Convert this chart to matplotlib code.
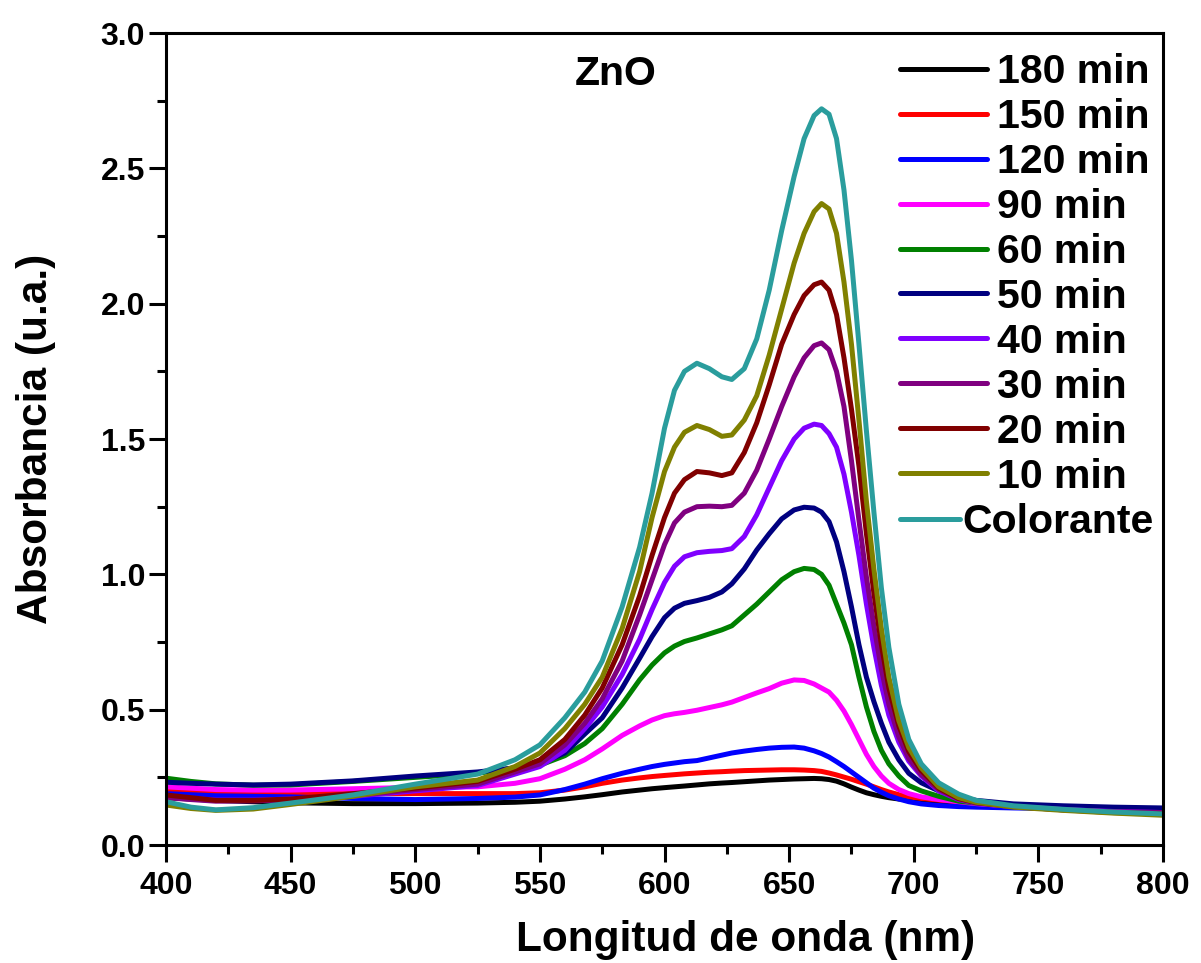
import numpy as np
import matplotlib
matplotlib.use("Agg")
import matplotlib.pyplot as plt
from matplotlib.ticker import FormatStrFormatter

# ============================================================
# DATA
# ============================================================

wavelength = [400, 410, 420, 435, 450, 475, 500, 525, 540, 550,
              560, 568, 575, 583, 590, 595, 600, 604, 608, 613,
              618, 623, 627, 632, 637, 642, 647, 652, 656, 660,
              663, 666, 669, 672, 675, 678, 681, 684, 687, 690,
              694, 698, 703, 710, 718, 725, 740, 760, 780, 800]

abs_180 = [0.175, 0.170, 0.165, 0.160, 0.156, 0.153, 0.153, 0.155, 0.158, 0.162,
           0.170, 0.178, 0.186, 0.196, 0.203, 0.208, 0.212, 0.215, 0.218, 0.222,
           0.226, 0.229, 0.231, 0.234, 0.237, 0.240, 0.242, 0.244, 0.245, 0.246,
           0.245, 0.242, 0.236, 0.226, 0.214, 0.203, 0.193, 0.186, 0.180, 0.175,
           0.170, 0.166, 0.162, 0.157, 0.152, 0.149, 0.144, 0.138, 0.133, 0.128]

abs_150 = [0.203, 0.199, 0.196, 0.193, 0.191, 0.190, 0.190, 0.190, 0.190, 0.193,
           0.203, 0.215, 0.228, 0.240, 0.248, 0.253, 0.257, 0.260, 0.263, 0.266,
           0.269, 0.271, 0.273, 0.275, 0.276, 0.277, 0.278, 0.278, 0.277, 0.275,
           0.272, 0.266, 0.259, 0.251, 0.243, 0.234, 0.225, 0.215, 0.205, 0.196,
           0.186, 0.178, 0.172, 0.166, 0.160, 0.155, 0.146, 0.138, 0.132, 0.127]

abs_120 = [0.190, 0.186, 0.182, 0.180, 0.178, 0.172, 0.168, 0.172, 0.177, 0.185,
           0.205, 0.225, 0.245, 0.265, 0.280, 0.290, 0.298, 0.303, 0.308, 0.312,
           0.322, 0.332, 0.340, 0.347, 0.353, 0.358, 0.361, 0.362, 0.358, 0.348,
           0.338, 0.325, 0.308, 0.290, 0.270, 0.250, 0.230, 0.210, 0.195, 0.182,
           0.170, 0.160, 0.152, 0.146, 0.142, 0.140, 0.137, 0.134, 0.130, 0.126]

abs_90 = [0.215, 0.210, 0.205, 0.203, 0.203, 0.208, 0.213, 0.215, 0.228, 0.245,
          0.280, 0.315, 0.355, 0.405, 0.440, 0.462, 0.478, 0.485, 0.490, 0.498,
          0.508, 0.518, 0.528, 0.545, 0.562, 0.578, 0.598, 0.610, 0.608, 0.595,
          0.580, 0.565, 0.535, 0.495, 0.445, 0.390, 0.335, 0.290, 0.255, 0.228,
          0.205, 0.190, 0.178, 0.168, 0.160, 0.153, 0.143, 0.136, 0.130, 0.125]

abs_60 = [0.247, 0.235, 0.226, 0.221, 0.222, 0.235, 0.250, 0.265, 0.285, 0.295,
          0.330, 0.375, 0.430, 0.520, 0.610, 0.665, 0.710, 0.735, 0.752, 0.765,
          0.780, 0.795, 0.810, 0.850, 0.890, 0.935, 0.980, 1.010, 1.022, 1.018,
          1.000, 0.960, 0.890, 0.820, 0.740, 0.620, 0.510, 0.420, 0.350, 0.300,
          0.255, 0.220, 0.200, 0.180, 0.162, 0.155, 0.145, 0.138, 0.133, 0.130]

abs_50 = [0.232, 0.228, 0.225, 0.222, 0.225, 0.237, 0.255, 0.270, 0.285, 0.300,
          0.340, 0.410, 0.470, 0.580, 0.690, 0.770, 0.840, 0.875, 0.893, 0.903,
          0.915, 0.935, 0.965, 1.020, 1.090, 1.150, 1.205, 1.238, 1.248, 1.245,
          1.230, 1.195, 1.120, 1.010, 0.880, 0.740, 0.620, 0.530, 0.450, 0.380,
          0.315, 0.265, 0.230, 0.200, 0.178, 0.165, 0.152, 0.145, 0.140, 0.137]

abs_40 = [0.178, 0.172, 0.166, 0.166, 0.170, 0.180, 0.200, 0.220, 0.262, 0.290,
          0.350, 0.430, 0.510, 0.630, 0.760, 0.870, 0.970, 1.030, 1.065, 1.080,
          1.085, 1.088, 1.095, 1.140, 1.220, 1.320, 1.420, 1.500, 1.540, 1.555,
          1.550, 1.520, 1.470, 1.370, 1.230, 1.070, 0.890, 0.730, 0.590, 0.480,
          0.380, 0.310, 0.255, 0.200, 0.168, 0.155, 0.142, 0.131, 0.124, 0.120]

abs_30 = [0.175, 0.168, 0.162, 0.163, 0.167, 0.182, 0.205, 0.225, 0.270, 0.300,
          0.370, 0.450, 0.540, 0.680, 0.850, 0.980, 1.110, 1.190, 1.230, 1.250,
          1.252, 1.250, 1.255, 1.300, 1.385, 1.500, 1.620, 1.730, 1.800, 1.845,
          1.855, 1.830, 1.750, 1.620, 1.420, 1.200, 0.990, 0.810, 0.650, 0.520,
          0.400, 0.320, 0.260, 0.205, 0.170, 0.156, 0.142, 0.130, 0.123, 0.120]

abs_20 = [0.185, 0.175, 0.165, 0.165, 0.170, 0.190, 0.210, 0.235, 0.280, 0.315,
          0.390, 0.480, 0.580, 0.740, 0.920, 1.070, 1.210, 1.300, 1.350, 1.380,
          1.375, 1.365, 1.375, 1.450, 1.560, 1.700, 1.850, 1.960, 2.030, 2.070,
          2.080, 2.050, 1.960, 1.800, 1.610, 1.400, 1.150, 0.930, 0.740, 0.580,
          0.440, 0.345, 0.275, 0.210, 0.172, 0.157, 0.142, 0.130, 0.120, 0.115]

abs_10 = [0.148, 0.135, 0.128, 0.133, 0.150, 0.180, 0.215, 0.240, 0.290, 0.340,
          0.430, 0.520, 0.620, 0.800, 1.010, 1.210, 1.380, 1.470, 1.525, 1.550,
          1.535, 1.510, 1.515, 1.570, 1.660, 1.810, 1.980, 2.150, 2.260, 2.340,
          2.370, 2.350, 2.260, 2.080, 1.850, 1.570, 1.270, 1.020, 0.800, 0.620,
          0.460, 0.360, 0.285, 0.215, 0.175, 0.158, 0.140, 0.128, 0.118, 0.110]

abs_dye = [0.160, 0.140, 0.130, 0.138, 0.155, 0.185, 0.225, 0.262, 0.315, 0.370,
           0.470, 0.565, 0.680, 0.880, 1.100, 1.300, 1.540, 1.680, 1.750, 1.780,
           1.760, 1.730, 1.720, 1.760, 1.870, 2.050, 2.270, 2.470, 2.610, 2.695,
           2.720, 2.700, 2.610, 2.420, 2.160, 1.850, 1.530, 1.230, 0.950, 0.730,
           0.520, 0.390, 0.300, 0.230, 0.188, 0.165, 0.145, 0.132, 0.122, 0.115]

labels = ["180 min", "150 min", "120 min", "90 min", "60 min", "50 min",
          "40 min", "30 min", "20 min", "10 min", "Colorante"]

colors = ["#000000", "#ff0000", "#0000ff", "#ff00ff", "#008000", "#000080",
          "#8000ff", "#800080", "#800000", "#808000", "#2a9d9d"]

series = [abs_180, abs_150, abs_120, abs_90, abs_60, abs_50,
          abs_40, abs_30, abs_20, abs_10, abs_dye]

# ============================================================
# PLOT
# ============================================================

plt.rcParams["font.family"] = ["Liberation Sans", "DejaVu Sans"]
plt.rcParams["font.weight"] = "bold"

fig = plt.figure(figsize=(12.01, 9.63), dpi=100)
ax = fig.add_axes([0.1382, 0.1225, 0.8302, 0.8432])

lines = []
for values, label, color in zip(series, labels, colors):
    ln, = ax.plot(wavelength, values, color=color, lw=3.6, label=label,
                  solid_capstyle="round", solid_joinstyle="round")
    lines.append(ln)

ax.set_xlim(400, 800)
ax.set_ylim(0, 3.0)

ax.set_xticks(np.arange(400, 801, 50))
ax.set_xticks(np.arange(425, 800, 50), minor=True)
ax.set_yticks(np.arange(0, 3.01, 0.5))
ax.set_yticks(np.arange(0.25, 3.0, 0.5), minor=True)
ax.yaxis.set_major_formatter(FormatStrFormatter("%.1f"))

ax.tick_params(which="major", direction="out", length=12, width=2.2,
               labelsize=23, pad=3)
ax.tick_params(axis="x", which="major", pad=7)
ax.tick_params(which="minor", direction="out", length=6.5, width=2.2)

for spine in ax.spines.values():
    spine.set_linewidth(2.2)

ax.set_xlabel("Longitud de onda (nm)", fontsize=30.5, fontweight="bold")
ax.xaxis.set_label_coords(0.581, -0.092)
ax.set_ylabel("Absorbancia (u.a.)", fontsize=30.5, fontweight="bold",
              labelpad=32)

ax.text(580.5, 2.848, "ZnO", fontsize=29.5, fontweight="bold",
        ha="center", va="center")

# legend: time series, then the dye entry with a shorter handle
leg1 = ax.legend(lines[:-1], labels[:-1], loc="upper left",
                 bbox_to_anchor=(0.7362, 0.9754), frameon=False,
                 fontsize=29.5, labelspacing=0.17, handlelength=2.12,
                 handletextpad=0.25, borderpad=0, borderaxespad=0)
ax.add_artist(leg1)
ax.legend(lines[-1:], labels[-1:], loc="upper left",
          bbox_to_anchor=(0.7362, 0.4212), frameon=False,
          fontsize=29.5, handlelength=1.46, handletextpad=0.07,
          borderpad=0, borderaxespad=0)

fig.savefig("out.png", dpi=100)
